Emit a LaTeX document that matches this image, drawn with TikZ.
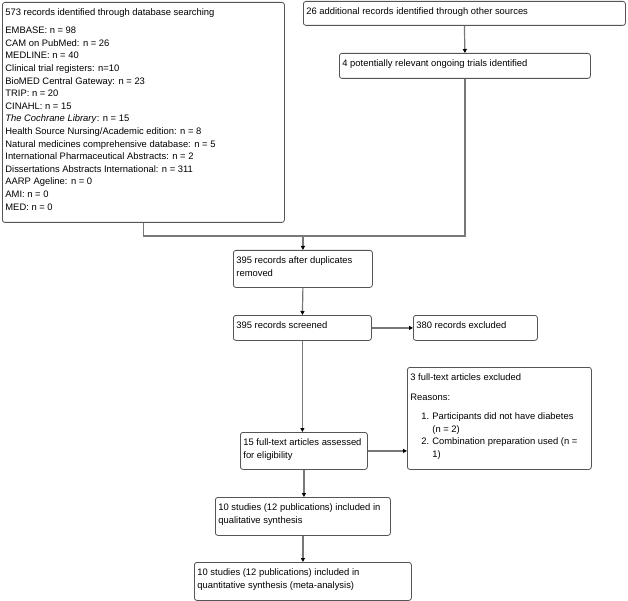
\documentclass[tikz,border=0pt]{standalone}
\usepackage{fontspec}
\setmainfont{Liberation Sans}
\usepackage{tikz}
\usepackage{xcolor}
\usetikzlibrary{arrows.meta,calc}
\definecolor{boxgray}{RGB}{85,85,85}
\definecolor{linegray}{RGB}{120,120,120}

% text held at the top left of a box of fixed size
\newcommand{\boxtxt}[3]{\parbox[c][#2][t]{#1}{\vspace*{3.5pt}#3}}

\begin{document}
\begin{tikzpicture}[x=1pt, y=-1pt,
    flow/.style={draw=boxgray, line width=0.8pt, rounded corners=2.5pt, anchor=north west,
        inner xsep=3pt, inner ysep=3pt, font=\fontsize{9.4}{12.6}\selectfont},
    link/.style={linegray, line width=1.2pt},
    flowarrow/.style={link, -{Triangle[length=4pt, width=4pt, color=black]}}]
    \useasboundingbox (0,0) rectangle (628,601);

    % identification
    \node[flow] (dbsearch) at (2,2) {\boxtxt{276pt}{214pt}{%
        573 records identified through database searching\\[5.4pt]
        EMBASE: n = 98\\
        CAM on PubMed: n = 26\\
        MEDLINE: n = 40\\
        Clinical trial registers: n=10\\
        BioMED Central Gateway: n = 23\\
        TRIP: n = 20\\
        CINAHL: n = 15\\
        \textit{The Cochrane Library}: n = 15\\
        Health Source Nursing/Academic edition: n = 8\\
        Natural medicines comprehensive database: n = 5\\
        International Pharmaceutical Abstracts: n = 2\\
        Dissertations Abstracts International: n = 311\\
        AARP Ageline: n = 0\\
        AMI: n = 0\\
        MED: n = 0}};
    \node[flow] (other) at (303,1) {\boxtxt{316pt}{18pt}{26 additional records identified through other sources}};
    \node[flow] (ongoing) at (339,53) {\boxtxt{245pt}{19pt}{4 potentially relevant ongoing trials identified}};

    % screening
    \node[flow] (dedup) at (233,250) {\boxtxt{133pt}{31pt}{395 records after duplicates\\ removed}};
    \node[flow] (screened) at (233,315) {\boxtxt{132pt}{19pt}{395 records screened}};
    \node[flow] (excluded) at (413,315) {\boxtxt{118pt}{19pt}{380 records excluded}};

    % eligibility
    \node[flow] (fulltext) at (240,432) {\boxtxt{121pt}{31pt}{15 full-text articles assessed\\ for eligibility}};
    \node[flow] (ftexcl) at (407,367) {\boxtxt{178pt}{96pt}{%
        3 full-text articles excluded\\[7pt]
        Reasons:\\[6.5pt]
        \makebox[22pt][l]{\hspace{11pt}1.}Participants did not have diabetes\\
        \hspace*{22pt}(n = 2)\\
        \makebox[22pt][l]{\hspace{11pt}2.}Combination preparation used (n =\\
        \hspace*{22pt}1)}};

    % included
    \node[flow] (qualit) at (215,497) {\boxtxt{169pt}{32pt}{10 studies (12 publications) included in\\ qualitative synthesis}};
    \node[flow] (quantit) at (194,562) {\boxtxt{211pt}{32pt}{10 studies (12 publications) included in\\ quantitative synthesis (meta-analysis)}};

    % connectors
    \coordinate (merge) at (dedup.north |- 0,236);
    \draw[flowarrow] (other.south) -- (ongoing.north);
    \draw[link] (dbsearch.south) |- (merge);
    \draw[link] (ongoing.south) |- (merge);
    \draw[flowarrow] (merge) -- (dedup.north);
    \draw[flowarrow] (dedup.south) -- (screened.north);
    \draw[flowarrow] (screened.east) -- (excluded.west);
    \draw[flowarrow] (screened.south) -- (screened.south |- fulltext.north);
    \draw[flowarrow] (fulltext.east) -- (fulltext.east -| ftexcl.west);
    \draw[flowarrow] (fulltext.south) -- (fulltext.south |- qualit.north);
    \draw[flowarrow] (qualit.south) -- (qualit.south |- quantit.north);
\end{tikzpicture}
\end{document}
